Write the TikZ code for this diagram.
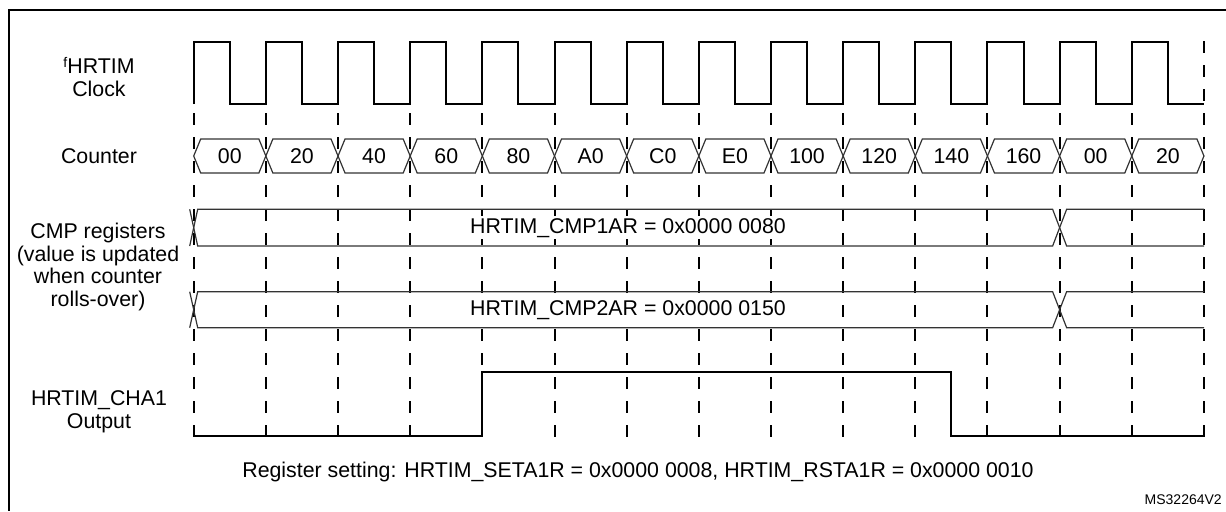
\documentclass[tikz,border=0pt]{standalone}
\usepackage{fontspec}
\setmainfont{Liberation Sans}
\begin{document}
\begin{tikzpicture}[x=0.75pt,y=-0.75pt,
  wave/.style={line width=1.5pt, black, line join=miter},
  bus/.style={line width=0.9pt, black!80, line join=miter},
  gridline/.style={line width=1.5pt, black, dash pattern=on 9pt off 9pt},
  lbl/.style={font=\fontsize{16}{17}\selectfont, align=center, inner sep=0pt},
  small/.style={font=\fontsize{10.5}{12}\selectfont, inner sep=0pt},
  busval/.style={lbl, fill=white, inner sep=1.5pt},
]
\useasboundingbox (0,0) rectangle (1226,511);
% frame
\draw[line width=1.5pt] (1226,10) -- (9,10) -- (9,511);

\def\eo{193.7}
\def\per{72.16}

% labels
\node[lbl] (lclk) at (99,77) {\raisebox{0.55ex}{\fontsize{10.5}{10.5}\selectfont f}HRTIM\\Clock};
\node[lbl] (lcnt) at (99,156) {Counter};
\node[lbl] (lcmp) at (98,267) {CMP registers\\(value is updated\\when counter\\rolls-over)};
\node[lbl] (lout) at (99,412) {HRTIM\_CHA1\\Output};

% clock
\coordinate (ck0) at (\eo,104);
\draw[wave] (ck0) \foreach \k in {0,...,13}{ -- ++(0,-62.5) -- ++(36.08,0) -- ++(0,62.5) -- ++(36.08,0)};

% dashed grid
\foreach \k in {0,...,13}{
  \coordinate (gt\k) at ({\eo+\per*\k},113);
  \coordinate (gb\k) at ({\eo+\per*\k},437);
  \draw[gridline] (gt\k) -- (gb\k);
}
\coordinate (gt14) at (1204,41);
\coordinate (gb14) at (1204,437);
\draw[gridline] (gt14) -- (gb14);

% counter
\foreach \k/\t in {0/00,1/20,2/40,3/60,4/80,5/A0,6/C0,7/E0,8/100,9/120,10/140,11/160,12/00,13/20}{
  \pgfmathsetmacro\a{\eo+\per*\k}
  \pgfmathsetmacro\b{\a+\per}
  \draw[bus] (\a,156) -- (\a+7,139) -- (\b-7,139) -- (\b,156) -- (\b-7,173) -- (\a+7,173) -- cycle;
  \node[lbl] (c\k) at ({(\a+\b)/2},156) {\t};
}

% CMP buses
\pgfmathsetmacro\ec{\eo+\per*12}
\foreach \top/\bot/\n in {209.3/246/1,291.7/327.7/2}{
  \draw[bus] (189.7,\top) -- (197.7,\bot) -- (\ec-7,\bot) -- (\ec+7,\top) -- (1204,\top);
  \draw[bus] (189.7,\bot) -- (197.7,\top) -- (\ec-7,\top) -- (\ec+7,\bot) -- (1204,\bot);
}
\node[busval] (cmp1) at (628,227.7) {HRTIM\_CMP1AR = 0x0000 0080};
\node[busval] (cmp2) at (628,309.7) {HRTIM\_CMP2AR = 0x0000 0150};

% output
\coordinate (o0) at (\eo,435.7);
\coordinate (o1) at ({\eo+\per*4},435.7);
\coordinate (o2) at ({\eo+\per*4},372.3);
\coordinate (o3) at ({\eo+\per*10.5},372.3);
\coordinate (o4) at ({\eo+\per*10.5},435.7);
\coordinate (o5) at (1204,435.7);
\draw[wave] (o0) -- (o1) -- (o2) -- (o3) -- (o4) -- (o5);

% footer
\node[lbl] (foot) at (638,472) {Register setting: HRTIM\_SETA1R = 0x0000 0008, HRTIM\_RSTA1R = 0x0000 0010};
\node[small, anchor=east] (ms) at (1222,500) {MS32264V2};
\end{tikzpicture}
\end{document}
